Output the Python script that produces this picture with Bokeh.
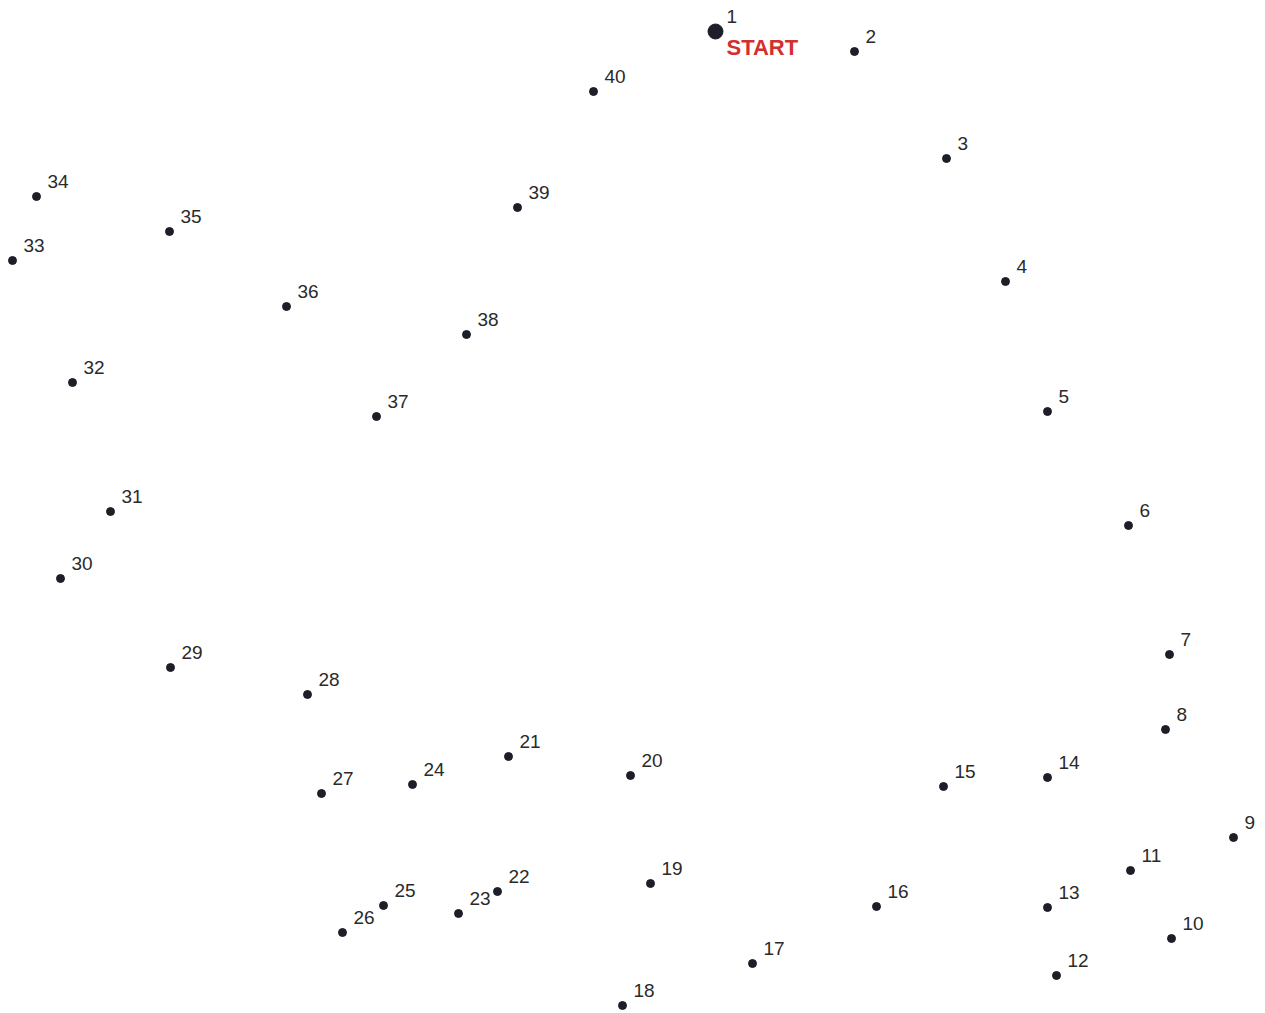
from bokeh.plotting import figure
from bokeh.models import Range1d, ColumnDataSource
from bokeh.core.properties import value
from bokeh.embed import file_html
from bokeh.resources import INLINE

# Point numbers and positions (picture pixel coordinates, y downward)
labels = [str(i) for i in range(1, 41)]
xs = [715, 854, 946, 1005, 1047, 1128, 1169, 1165, 1233, 1171,
      1130, 1056, 1047, 1047, 943, 876, 752, 622, 650, 630,
      508, 497, 458, 412, 383, 342, 321, 307, 170, 60,
      110, 72, 12, 36, 169, 286, 376, 466, 517, 593]
ys = [31, 51, 158, 281, 411, 525, 654, 729, 837, 938,
      870, 975, 907, 777, 786, 906, 963, 1005, 883, 775,
      756, 891, 913, 784, 905, 932, 793, 694, 667, 578,
      511, 382, 260, 196, 231, 306, 416, 334, 207, 91]
start_label = "START"

W, H = 1262, 1012
p = figure(width=W, height=H, output_backend="svg", toolbar_location=None,
           x_range=Range1d(0, W), y_range=Range1d(H, 0),
           min_border=0, outline_line_color=None)
p.axis.visible = False
p.grid.visible = False

src = ColumnDataSource(dict(x=xs[1:], y=ys[1:], t=labels[1:]))
p.scatter("x", "y", source=src, size=8, color="#1e1e28")
p.scatter([xs[0]], [ys[0]], size=15, color="#1e1e28")

p.text("x", "y", text="t", source=src, x_offset=11, y_offset=-15,
       text_font=value("Liberation Sans"), text_font_size="19px",
       text_color="#2a2a2a", text_baseline="alphabetic", text_align="left")
p.text([xs[0]], [ys[0]], text=[labels[0]], x_offset=11, y_offset=-15,
       text_font=value("Liberation Sans"), text_font_size="19px",
       text_color="#2a2a2a", text_baseline="alphabetic", text_align="left")
p.text([xs[0]], [ys[0]], text=[start_label], x_offset=11, y_offset=16,
       text_font=value("Liberation Sans"), text_font_size="22px",
       text_font_style="bold", text_color="#d32f2f",
       text_baseline="alphabetic", text_align="left")

open("out.html", "w").write(file_html(p, INLINE))
